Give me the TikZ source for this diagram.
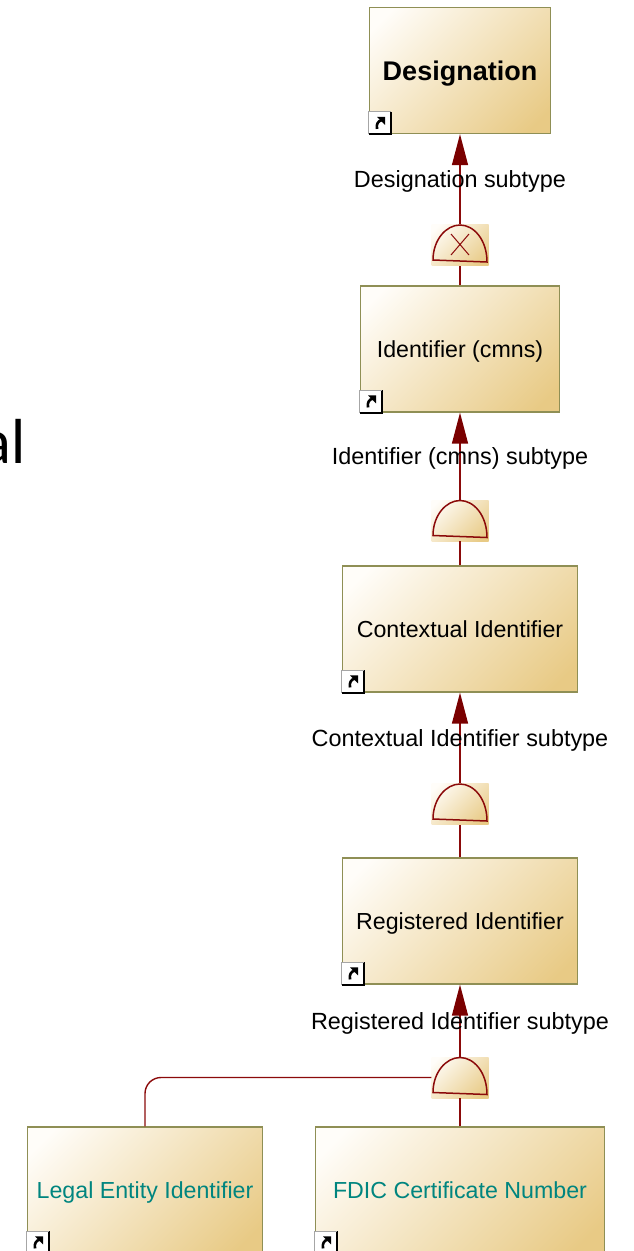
\documentclass[tikz,border=0pt]{standalone}
\usepackage{fontspec}
\setmainfont{Liberation Sans}
\newfontfamily\titlefont{Lato}
\usetikzlibrary{arrows.meta}
\definecolor{boxlight}{HTML}{FFFDF9}
\definecolor{boxdark}{HTML}{E8CA85}
\definecolor{boxline}{HTML}{8F8F55}
\definecolor{linkred}{HTML}{8B0A0A}
\definecolor{tipred}{HTML}{7A0000}
\definecolor{extteal}{HTML}{00857F}
\pgfdeclareverticalshading{boxfade}{100bp}{color(0bp)=(boxdark); color(20bp)=(boxdark); color(80bp)=(boxlight); color(100bp)=(boxlight)}
\tikzset{
  classbox/.style={draw=boxline, line width=1.3pt, shading=boxfade, shading angle=45, minimum height=126pt, inner sep=0pt, text depth=0pt, font=\fontsize{23.2}{25}\selectfont},
  gatebox/.style={shading=boxfade, shading angle=45, minimum width=57pt, minimum height=41pt, inner sep=0pt},
  iconbox/.style={fill=white, minimum width=22pt, minimum height=22pt, inner sep=0pt, anchor=south west},
  link/.style={draw=linkred, line width=1.4pt},
  subtype/.style={link, -{Triangle[length=31pt,width=16pt,color=tipred]}},
  subtypelabel/.style={font=\fontsize{23.4}{25}\selectfont, text=black, inner sep=0pt, text depth=0pt}
}
% shortcut mark in the corner of a box
\newcommand{\shortcut}[2]{
  \node[iconbox] (#2) at (#1.south west) {};
  \draw[black, line width=1.8pt] (#2.south west) -- (#2.south east) -- (#2.north east);
  \draw[black!35, line width=0.8pt] (#2.south west) -- (#2.north west) -- (#2.north east);
  \draw[black, line width=2.6pt] ([shift={(-3,6)}]#2.center) .. controls ([shift={(-4,1)}]#2.center) and ([shift={(-2,-2)}]#2.center) .. ([shift={(2,-3)}]#2.center);
  \fill[black] ([shift={(5,-6)}]#2.center) -- ([shift={(-3,-6)}]#2.center) -- ([shift={(5,2)}]#2.center) -- cycle;
}
% half round gate on its square
\newcommand{\gate}[2]{
  \node[gatebox] (#1) at (#2) {};
  \draw[linkred, line width=1.5pt] ([shift={(-27,15)}]#1.center) .. controls ([shift={(-27,-5)}]#1.center) and ([shift={(-14,-20)}]#1.center) .. ([shift={(0,-20)}]#1.center) .. controls ([shift={(14,-20)}]#1.center) and ([shift={(27,-5)}]#1.center) .. ([shift={(27,17)}]#1.center) -- cycle;
}
\begin{document}
\begin{tikzpicture}[x=1pt, y=-1pt]
    \useasboundingbox (0,0) rectangle (633,1251);
    \node[anchor=base east, inner sep=0pt, font=\titlefont\fontsize{60}{60}\selectfont] (cutTitle) at (26,463) {al};

    \node[classbox, minimum width=181pt, font=\bfseries\fontsize{27}{29}\selectfont] (designation) at (460,70.5) {Designation};
    \node[classbox, minimum width=199pt] (identifier) at (460,349) {Identifier (cmns)};
    \node[classbox, minimum width=235pt] (contextual) at (460,629) {Contextual Identifier};
    \node[classbox, minimum width=235pt] (registered) at (460,921) {Registered Identifier};
    \node[classbox, minimum width=235pt, text=extteal] (legal) at (145,1190) {Legal Entity Identifier};
    \node[classbox, minimum width=289pt, text=extteal] (fdic) at (460,1190) {FDIC Certificate Number};

    \shortcut{designation}{designationIcon}
    \shortcut{identifier}{identifierIcon}
    \shortcut{contextual}{contextualIcon}
    \shortcut{registered}{registeredIcon}
    \shortcut{legal}{legalIcon}
    \shortcut{fdic}{fdicIcon}

    \gate{gateX}{460,245}
    \gate{gateA}{460,520.5}
    \gate{gateB}{460,804}
    \gate{gateC}{460,1077.5}
    \draw[linkred, line width=1pt] (gateX.center) ++(-9,-11) -- ++(18,21) ++(0,-21) -- ++(-18,21);

    \draw[subtype] (gateX.north) -- node[subtypelabel] (labelX) {Designation subtype} (designation.south);
    \draw[subtype] (gateA.north) -- node[subtypelabel] (labelA) {Identifier (cmns) subtype} (identifier.south);
    \draw[subtype] (gateB.north) -- node[subtypelabel] (labelB) {Contextual Identifier subtype} (contextual.south);
    \draw[subtype] (gateC.north) -- node[subtypelabel] (labelC) {Registered Identifier subtype} (registered.south);

    \draw[link] (identifier.north) -- (gateX.south);
    \draw[link] (contextual.north) -- (gateA.south);
    \draw[link] (registered.north) -- (gateB.south);
    \draw[link] (fdic.north) -- (gateC.south);
    \draw[link, rounded corners=16pt] (legal.north) |- (gateC.west);
\end{tikzpicture}
\end{document}
